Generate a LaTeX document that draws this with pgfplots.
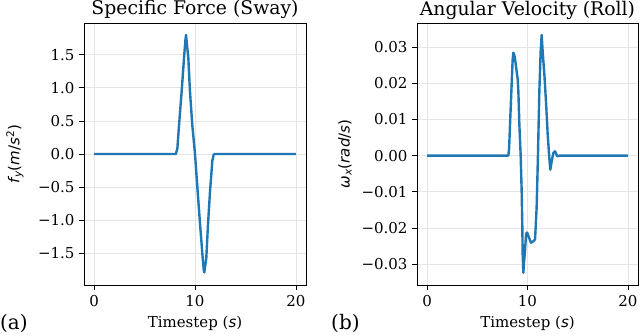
\documentclass[border=0pt]{standalone}
\usepackage{fontspec}
\setmainfont{DejaVu Serif}
\newfontfamily\dvs{DejaVu Sans}
\usepackage{pgfplots}
\pgfplotsset{compat=1.18}
\definecolor{mplblue}{HTML}{1F77B4}
\newcommand{\mi}[1]{{\dvs\itshape #1}}
\newcommand{\fs}[1]{\fontsize{#1}{#1}\selectfont}

\pgfplotsset{panel/.style={
  scale only axis, width=222pt, height=262pt,
  anchor=south west,
  axis line style={black, line width=0.9pt},
  tick style={black, line width=0.8pt}, major tick length=5pt,
  tick align=outside, xtick pos=bottom, ytick pos=left,
  grid=major, major grid style={black!10, line width=0.8pt},
  xmin=-1, xmax=21, xtick={0,10,20}, xticklabels={0,10,20},
  scaled y ticks=false,
  ticklabel style={font=\fs{15}},
  xticklabel style={yshift=-2pt},
  yticklabel style={xshift=-1pt},
  title style={at={(axis description cs:0.5,1)}, anchor=base, yshift=2pt, font=\fs{18.8}},
  xlabel style={at={(axis description cs:0.5,0)}, anchor=base, yshift=-42pt, font=\fs{15}},
  ylabel style={anchor=center, font=\fs{15}},
  xlabel={Timestep (\mi{s})},
}}
\pgfplotsset{curve/.style={mplblue, no marks, line width=2.4pt, line join=round}}

\begin{document}
\begin{tikzpicture}[x=1pt,y=1pt]
\useasboundingbox (0,0) rectangle (640,335);

\begin{axis}[panel, at={(84pt,50pt)},
  ymin=-1.98, ymax=1.98,
  ytick={-1.5,-1,-0.5,0,0.5,1,1.5},
  yticklabels={−1.5,−1.0,−0.5,0.0,0.5,1.0,1.5},
  title={Specific Force (Sway)},
  ylabel style={at={(axis description cs:-0.311,0.5)}},
  ylabel={\mi{f}\textsubscript{\mi{y}}{\dvs(}\mi{m}{\dvs/}\mi{s}\textsuperscript{\dvs 2}{\dvs)}}]
\addplot[curve] coordinates {(0,0) (8.1,0) (8.25,0.08) (8.42,0.44) (8.68,0.95) (8.91,1.45)
  (9.05,1.72) (9.11,1.80) (9.2,1.66) (9.34,1.45) (9.5,0.95) (9.73,0.44) (10.0,0.0)
  (10.26,-0.56) (10.5,-1.06) (10.76,-1.57) (10.86,-1.74) (10.92,-1.79) (11.0,-1.70)
  (11.12,-1.57) (11.29,-1.06) (11.49,-0.56) (11.72,-0.10) (11.85,-0.01) (11.95,0.0) (20,0)};
\end{axis}

\begin{axis}[panel, at={(417pt,50pt)}, width=221pt,
  ymin=-0.0358, ymax=0.0367,
  ytick={-0.03,-0.02,-0.01,0,0.01,0.02,0.03},
  yticklabels={−0.03,−0.02,−0.01,0.00,0.01,0.02,0.03},
  title={Angular Velocity (Roll)},
  ylabel style={at={(axis description cs:-0.326,0.5)}},
  ylabel={\mi{ω}\textsubscript{\mi{x}}{\dvs(}\mi{rad}{\dvs/}\mi{s}{\dvs)}}]
\addplot[curve] coordinates {(0,0) (8.09,0) (8.17,0.002) (8.26,0.0086) (8.42,0.0196) (8.52,0.0265)
  (8.59,0.0285) (8.67,0.0280) (8.75,0.027) (8.92,0.0233) (9.03,0.021) (9.09,0.0178)
  (9.19,0.0086) (9.32,0.0) (9.42,-0.0099) (9.48,-0.019) (9.52,-0.0273) (9.59,-0.0324)
  (9.64,-0.030) (9.75,-0.0264) (9.85,-0.022) (9.92,-0.0213) (10.0,-0.0215) (10.15,-0.0227)
  (10.35,-0.0241) (10.58,-0.0237) (10.75,-0.0232) (10.91,-0.0144) (11.04,0) (11.18,0.0178)
  (11.31,0.0288) (11.41,0.0334) (11.51,0.0288) (11.68,0.0224) (11.84,0.015) (12.01,0.0058)
  (12.17,-0.0006) (12.27,-0.0039) (12.41,-0.0016) (12.57,0.0007) (12.74,0.0012)
  (12.97,-0.0002) (13.2,0) (20,0)};
\end{axis}

\node[anchor=base west, font=\fs{20}, inner sep=0pt] at (0,6) {(a)};
\node[anchor=base west, font=\fs{20}, inner sep=0pt] at (331,6) {(b)};
\end{tikzpicture}
\end{document}
